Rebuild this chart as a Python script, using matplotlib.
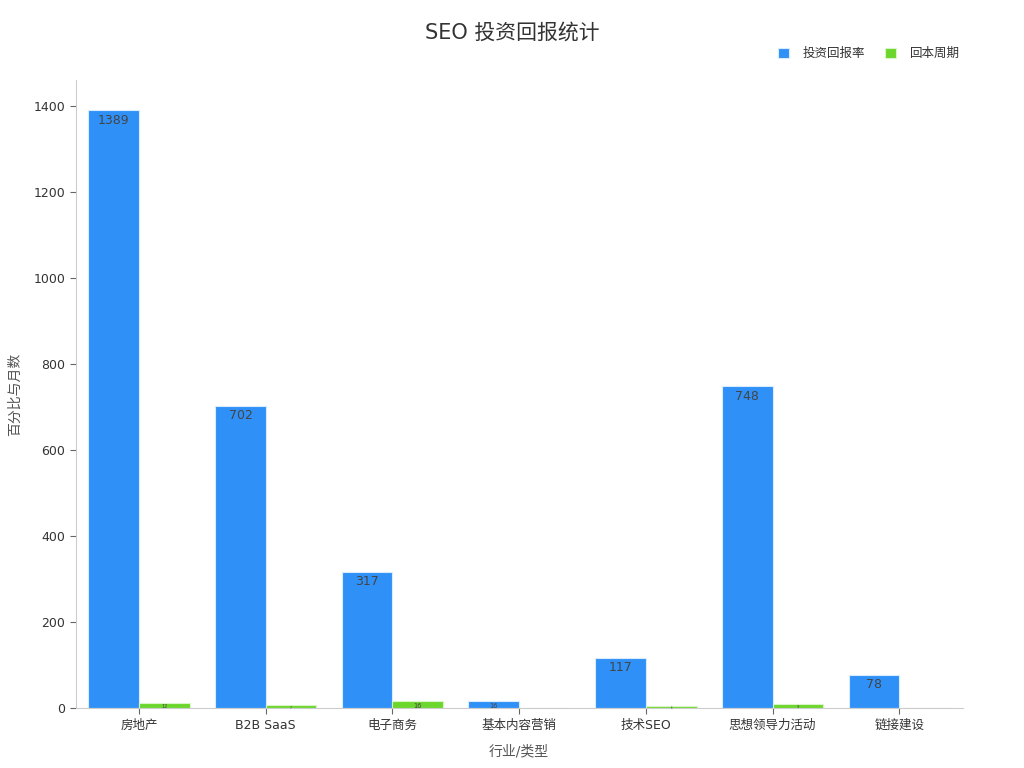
import matplotlib
matplotlib.use("Agg")
import matplotlib.pyplot as plt
import numpy as np

plt.rcParams['font.family'] = ['DejaVu Sans', 'Noto Sans CJK SC']

# 数据
categories = ['房地产', 'B2B SaaS', '电子商务', '基本内容营销', '技术SEO', '思想领导力活动', '链接建设']
roi = [1389, 702, 317, 16, 117, 748, 78]
payback = [12, 7, 16, 0, 6, 9, 0]

blue = '#2F91F8'
green = '#6BD62B'

fig = plt.figure(figsize=(10.24, 7.68), dpi=100)
ax = fig.add_axes([0.074, 0.078, 0.866, 0.818])

x = np.arange(len(categories))
w = 0.4
b1 = ax.bar(x - w / 2, roi, w, color=blue, edgecolor='#d8ebff', linewidth=0.8, label='投资回报率')
b2 = ax.bar(x + w / 2, payback, w, color=green, edgecolor='#d8f5c8', linewidth=0.8, label='回本周期')

# 柱内标签, 字号随柱高缩小
for bars in (b1, b2):
    for r in bars:
        h = r.get_height()
        if h <= 0:
            continue
        fs = min(9, max(1.5, h * 0.3))
        ax.text(r.get_x() + r.get_width() / 2, h - min(h * 0.25, 8), f'{int(h)}',
                ha='center', va='top', fontsize=fs, color='#444444')

ax.set_xlim(-0.5, len(categories) - 0.5)
ax.set_ylim(0, 1460)
ax.set_yticks(range(0, 1401, 200))
ax.set_xticks(x)
ax.set_xticklabels(categories, fontsize=9, color='#333333')
ax.tick_params(axis='y', labelsize=9, labelcolor='#333333', length=4, color='#666666')
ax.tick_params(axis='x', length=4, color='#666666')
for s in ('top', 'right'):
    ax.spines[s].set_visible(False)
for s in ('left', 'bottom'):
    ax.spines[s].set_color('#cccccc')

ax.set_xlabel('行业/类型', fontsize=10, color='#555555', labelpad=9)
ax.set_ylabel('百分比与月数', fontsize=10, color='#555555', labelpad=8)
fig.suptitle('SEO 投资回报统计', fontsize=15, color='#333333', y=0.97)

leg = ax.legend(loc='upper right', bbox_to_anchor=(1.01, 1.07), ncol=2, frameon=False,
                fontsize=9, handlelength=0.9, handleheight=0.9, columnspacing=1.6, handletextpad=1.1)
for t in leg.get_texts():
    t.set_color('#333333')

fig.savefig('out.png', dpi=100)
